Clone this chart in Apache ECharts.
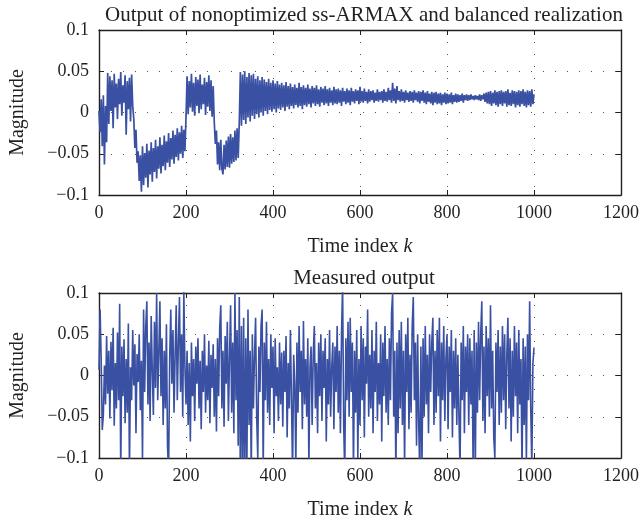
<!DOCTYPE html>
<html>
<head>
<meta charset="utf-8">
<script src="https://cdn.jsdelivr.net/npm/echarts@6/dist/echarts.min.js"></script>
<style>
html,body{margin:0;padding:0;background:#fff;}
#chart{width:644px;height:527px;}
</style>
</head>
<body>
<div id="chart"></div>
<script>
// ---- data ----
const titleTop = 'Output of nonoptimized ss-ARMAX and balanced realization';
const titleBottom = 'Measured output';
const xTicks = [0, 200, 400, 600, 800, 1000, 1200];
const yTicks = [-0.1, -0.05, 0, 0.05, 0.1];
const kLast = 1000; // last time index of both signals

// model output (top), samples evenly spaced over k = 0..1000
const modelOutput = [
 .002,-.024,.016,-.041,.021,-.063,.008,-.036,.048,-.014,
 .044,.002,.039,-.019,.047,.006,.035,-.008,.041,.010,
 .049,-.004,.033,.012,.045,-.027,.038,.004,.042,-.011,
 .046,.008,
 -.008,-.043,-.021,-.061,
 -.047,-.083,-.052,-.096,
 -.041,-.088,-.049,-.079,-.038,-.091,-.046,-.075,-.036,-.084,
 -.043,-.072,-.033,-.080,-.041,-.068,-.030,-.074,-.039,-.065,
 -.028,-.070,-.035,-.061,-.025,-.066,-.031,-.057,-.022,-.062,
 -.027,-.054,-.019,-.058,-.024,-.050,-.016,-.055,-.021,-.047,
 -.006,.044,-.002,.038,.006,.047,.001,.036,-.004,.043,
 .008,.040,-.001,.046,.004,.034,.010,.042,-.003,.037,
 .007,.045,.002,.039,-.005,.032,
 -.012,-.038,-.022,
 -.063,-.036,-.070,-.033,-.068,-.075,-.039,-.069,-.034,-.066,
 -.029,-.067,-.026,-.062,-.030,-.060,-.022,-.058,-.019,-.055,
 -.012,.049,-.016,.046,-.009,.050,-.014,.043,-.006,.048,
 -.011,.045,-.004,.047,-.008,.041,-.002,.044,-.006,.039,
 .000,.043,-.004,.040,.002,.037,-.002,.041,.003,.036,
 .001,.039,.004,.035,.000,.038,.005,.034,.003,.036,
 .006,.033,.002,.037,.007,.032,.004,.035,.008,.031,
 .005,.034,.009,.030,.006,.036,.008,.031,.004,.033,
 .009,.030,.007,.034,.010,.029,.006,.032,.011,.030,
 .008,.033,.010,.028,.007,.031,.012,.029,.009,.032,
 .011,.028,.008,.030,.012,.027,.009,.031,.011,.028,
 .010,.029,.012,.027,.008,.030,.013,.026,.010,.029,
 .012,.027,.009,.030,.013,.026,.011,.028,.014,.027,
 .010,.031,.013,.026,.012,.029,.014,.025,.011,.028,
 .013,.026,.015,.027,.012,.024,.014,.028,.013,.025,
 .015,.026,.012,.028,.014,.025,.013,.030,.015,.027,
 .012,.036,.014,.029,.011,.032,.015,.026,.013,.028,
 .014,.025,.012,.027,.015,.024,.013,.026,.014,.025,
 .012,.027,.015,.024,.013,.026,.011,.025,.014,.027,
 .012,.024,.010,.026,.013,.023,.011,.025,.009,.024,
 .012,.025,.010,.023,.011,.024,.009,.022,.012,.024,
 .010,.023,.011,.022,.012,.024,.010,.021,.013,.023,
 .012,.022,.013,.021,.014,.023,.012,.021,.015,.022,
 .014,.021,.015,.022,.016,.020,.015,.021,.016,.020,
 .015,.022,.014,.021,.016,.023,.013,.024,.011,.025,
 .010,.026,.008,.024,.011,.027,.009,.025,.007,.026,
 .010,.027,.008,.025,.011,.026,.007,.028,.009,.024,
 .008,.027,.010,.026,.006,.025,.009,.027,.007,.026,
 .010,.028,.008,.025,.006,.027,.009,.026,.007,.028,
 .010,.022
];

// measured output (bottom), samples evenly spaced over k = 0..1000
const measuredOutput = [
 .007,.080,.021,-.066,-.048,.012,-.035,.048,-.022,.030,
 -.052,.041,-.018,.058,-.061,.015,-.040,.052,-.030,.087,
 -.120,.035,-.025,.044,-.058,.020,-.045,.063,-.115,.010,
 -.030,.055,-.012,.038,-.070,.026,-.008,.050,-.042,.018,
 -.100,.080,-.020,.060,.090,-.035,.040,-.055,.072,.005,
 -.048,.065,-.015,.100,-.030,.028,.090,-.025,.045,-.060,
 .030,-.040,.062,-.085,-.120,.020,.080,-.010,.055,-.045,
 .025,.085,-.030,.040,.095,-.020,.050,-.050,.102,.010,
 -.035,.030,-.060,.015,-.080,.040,-.025,.020,-.055,.035,
 -.010,.045,-.040,.018,-.065,.030,-.020,.050,-.045,.012,
 -.030,.042,-.058,.025,-.015,.038,-.050,.020,-.068,.045,
 -.025,.058,.085,-.040,.030,-.062,.048,-.010,.065,-.055,
 .020,.085,-.045,.040,-.070,.100,-.030,.055,-.085,.095,
 -.130,.060,-.120,.070,-.140,.045,-.110,.080,-.060,.030,
 -.120,.050,-.040,.025,.070,-.050,-.100,.035,-.020,.060,
 .080,-.115,.040,-.030,.065,-.045,.020,-.060,.050,-.015,
 .035,-.070,.045,-.025,.010,-.055,.040,-.035,.028,-.062,
 .030,-.020,.048,-.075,.015,-.040,.055,-.030,-.120,.025,
 -.010,-.110,.040,-.045,.060,-.020,.030,-.065,.066,-.035,
 .020,-.050,.045,-.110,.010,.035,-.060,.025,.060,-.040,
 .015,-.070,.040,-.025,.050,-.055,.030,-.015,.045,-.080,
 .020,-.035,.055,-.050,.010,.040,-.065,.035,-.020,.060,
 -.045,.030,-.070,.050,.110,-.060,-.120,.045,-.030,.065,
 -.050,.070,-.020,.040,-.115,.030,-.045,.055,-.100,.020,
 -.060,.060,-.030,.045,-.075,.035,-.010,.080,-.050,.025,
 -.040,.055,-.070,.030,-.020,.065,-.055,.015,-.035,.050,
 -.080,.040,-.025,.060,-.045,.020,-.060,.045,-.030,.075,
 .100,-.050,.030,-.120,.040,-.070,.055,-.040,.065,-.060,
 .030,-.110,.050,-.020,.070,-.065,.025,-.045,.060,.095,
 -.030,.040,-.085,.050,-.060,-.120,.035,-.110,.045,-.050,
 .060,-.035,.025,-.070,.050,-.020,.040,.070,-.060,.030,
 -.045,.055,-.025,.070,-.080,.040,-.030,.060,-.055,.020,
 .050,-.065,.035,-.020,.055,-.075,.030,-.040,.045,-.060,
 .025,-.050,-.115,.040,-.030,.060,-.070,.035,-.020,.050,
 -.060,.045,-.035,.030,-.110,.055,-.120,.040,-.045,.065,
 -.030,.050,.090,-.055,.035,-.070,.060,-.025,.045,-.050,
 .085,-.040,.030,-.075,-.100,.040,-.020,.055,-.060,.035,
 -.045,.060,-.030,.050,-.065,.025,.070,-.040,.045,-.080,
 .030,-.050,.060,-.025,.040,-.070,.055,-.035,.020,-.120,
 .045,-.060,.035,-.105,.050,-.030,.090,-.040,-.110,.015,
 .034
];

// ---- build ----
function toPairs(arr){
  const step = kLast / (arr.length - 1);
  return arr.map((v, i) => [i * step, v]);
}
const FONT = "'Liberation Serif','DejaVu Serif',serif";
const INK = '#231f20';
const LINE = '#3a50a2';
const fmtY = v => String(+v.toFixed(2)).replace('-', '\u2212');
const fmtX = v => String(v);

function mainX(gi){
  return {
    type:'value', gridIndex:gi, position:'bottom',
    min:xTicks[0], max:xTicks[xTicks.length-1], interval:xTicks[1]-xTicks[0],
    axisLine:{show:true, onZero:false, lineStyle:{color:INK, width:1.4}},
    axisTick:{show:true, inside:true, length:5, lineStyle:{color:INK, width:1}},
    axisLabel:{show:true, margin:9, fontFamily:FONT, fontSize:18, color:INK, formatter:fmtX},
    splitLine:{show:true, lineStyle:{color:'#555', width:1, type:[1,11]}},
    name:'{a|Time index }{b|k}', nameLocation:'middle', nameGap:42,
    nameTextStyle:{fontFamily:FONT, fontSize:20, color:INK,
      rich:{a:{fontFamily:FONT, fontSize:20, color:INK}, b:{fontFamily:FONT, fontSize:20, color:INK, fontStyle:'italic'}}}
  };
}
function mirrorX(gi){
  return {
    type:'value', gridIndex:gi, position:'top',
    min:xTicks[0], max:xTicks[xTicks.length-1], interval:xTicks[1]-xTicks[0],
    axisLine:{show:true, onZero:false, lineStyle:{color:INK, width:1.4}},
    axisTick:{show:true, inside:true, length:5, lineStyle:{color:INK, width:1}},
    axisLabel:{show:false}, splitLine:{show:false}
  };
}
function mainY(gi){
  return {
    type:'value', gridIndex:gi, position:'left',
    min:yTicks[0], max:yTicks[yTicks.length-1], interval:0.05,
    axisLine:{show:true, onZero:false, lineStyle:{color:INK, width:1.4}},
    axisTick:{show:true, inside:true, length:5, lineStyle:{color:INK, width:1}},
    axisLabel:{show:true, margin:10, fontFamily:FONT, fontSize:18, color:INK, formatter:fmtY},
    splitLine:{show:true, lineStyle:{color:'#555', width:1, type:[1,11]}},
    name:'Magnitude', nameLocation:'middle', nameGap:71,
    nameTextStyle:{fontFamily:FONT, fontSize:20, color:INK}
  };
}
function mirrorY(gi){
  return {
    type:'value', gridIndex:gi, position:'right',
    min:yTicks[0], max:yTicks[yTicks.length-1], interval:0.05,
    axisLine:{show:true, onZero:false, lineStyle:{color:INK, width:1.4}},
    axisTick:{show:true, inside:true, length:5, lineStyle:{color:INK, width:1}},
    axisLabel:{show:false}, splitLine:{show:false}
  };
}

const chart = echarts.init(document.getElementById('chart'), null, {renderer:'canvas'});
chart.setOption({
  animation:false,
  backgroundColor:'#fff',
  title:[
    {text:titleTop, left:359, top:0, textAlign:'center',
     textStyle:{fontFamily:FONT, fontSize:21, fontWeight:'normal', color:INK}},
    {text:titleBottom, left:359, top:263, textAlign:'center',
     textStyle:{fontFamily:FONT, fontSize:21, fontWeight:'normal', color:INK}}
  ],
  grid:[
    {left:98, top:30, width:523, height:165},
    {left:98, top:293, width:523, height:165}
  ],
  xAxis:[mainX(0), mirrorX(0), mainX(1), mirrorX(1)],
  yAxis:[mainY(0), mirrorY(0), mainY(1), mirrorY(1)],
  series:[
    {type:'line', xAxisIndex:0, yAxisIndex:0, data:toPairs(modelOutput),
     showSymbol:false, clip:true, lineStyle:{color:LINE, width:1.7}, itemStyle:{color:LINE}},
    {type:'line', xAxisIndex:2, yAxisIndex:2, data:toPairs(measuredOutput),
     showSymbol:false, clip:true, lineStyle:{color:LINE, width:1.6}, itemStyle:{color:LINE}}
  ]
});
</script>
</body>
</html>
